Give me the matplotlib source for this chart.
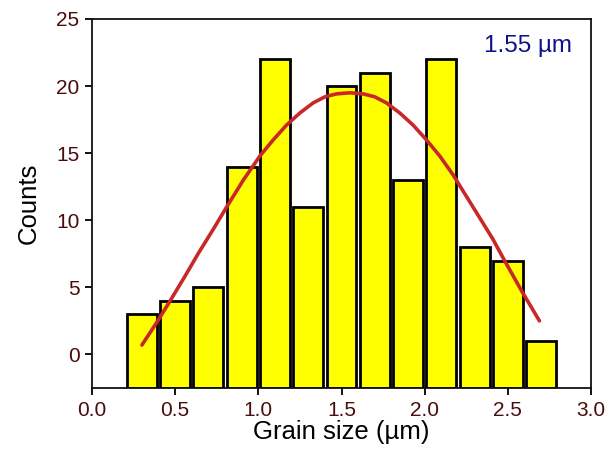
import matplotlib
matplotlib.use("Agg")
import matplotlib.pyplot as plt

plt.rcParams['font.family'] = ['Liberation Sans', 'DejaVu Sans']

bin_centers = [0.3, 0.5, 0.7, 0.9, 1.1, 1.3, 1.5, 1.7, 1.9, 2.1, 2.3, 2.5, 2.7]
counts = [3, 4, 5, 14, 22, 11, 20, 21, 13, 22, 8, 7, 1]

fit_x = [0.30, 0.39, 0.47, 0.56, 0.64, 0.73, 0.81, 0.91, 1.01, 1.09, 1.17, 1.25, 1.33, 1.40,
         1.47, 1.55, 1.63, 1.70, 1.77, 1.85, 1.93, 2.01, 2.09, 2.17, 2.25, 2.33, 2.41, 2.48,
         2.58, 2.69]
fit_y = [0.7, 2.4, 4.0, 5.85, 7.55, 9.35, 11.0, 13.0, 14.8, 16.0, 17.1, 18.0, 18.75, 19.2,
         19.42, 19.5, 19.42, 19.2, 18.75, 18.0, 17.1, 16.0, 14.8, 13.4, 11.8, 10.2, 8.6, 7.0,
         4.8, 2.5]

x_ticks = [0.0, 0.5, 1.0, 1.5, 2.0, 2.5, 3.0]
y_ticks = [0, 5, 10, 15, 20, 25]
annotation = "1.55 µm"

fig = plt.figure(figsize=(6.15, 4.5), dpi=100)
ax = fig.add_axes([92 / 615, 62 / 450, 499 / 615, 369 / 450])

ymin, ymax = -2.5, 25
ax.bar(bin_centers, [c - ymin for c in counts], bottom=ymin, width=0.18,
       color='#ffff00', edgecolor='black', linewidth=2.0, zorder=2)
ax.plot(fit_x, fit_y, color='#c8282a', linewidth=2.6, solid_capstyle='round',
        solid_joinstyle='round', zorder=3)

ax.set_xlim(0, 3.0)
ax.set_ylim(ymin, ymax)
ax.set_xticks(x_ticks)
ax.set_yticks(y_ticks)
ax.set_xticklabels([f"{v:.1f}" for v in x_ticks])
ax.set_yticklabels([str(v) for v in y_ticks])
tick_color = '#4a0c0c'
ax.tick_params(axis='both', direction='out', length=5, width=1.3, labelsize=15,
               labelcolor=tick_color, color='black', pad=4)
for s in ax.spines.values():
    s.set_linewidth(1.3)
    s.set_color('#111111')

ax.set_xlabel("Grain size (µm)", fontsize=18.5, labelpad=0)
ax.set_ylabel("Counts", fontsize=18.5, labelpad=11)
ax.text(0.962, 0.927, annotation, transform=ax.transAxes, ha='right', va='center',
        fontsize=17.5, color='#10108a')

fig.savefig("out.png", dpi=100)
